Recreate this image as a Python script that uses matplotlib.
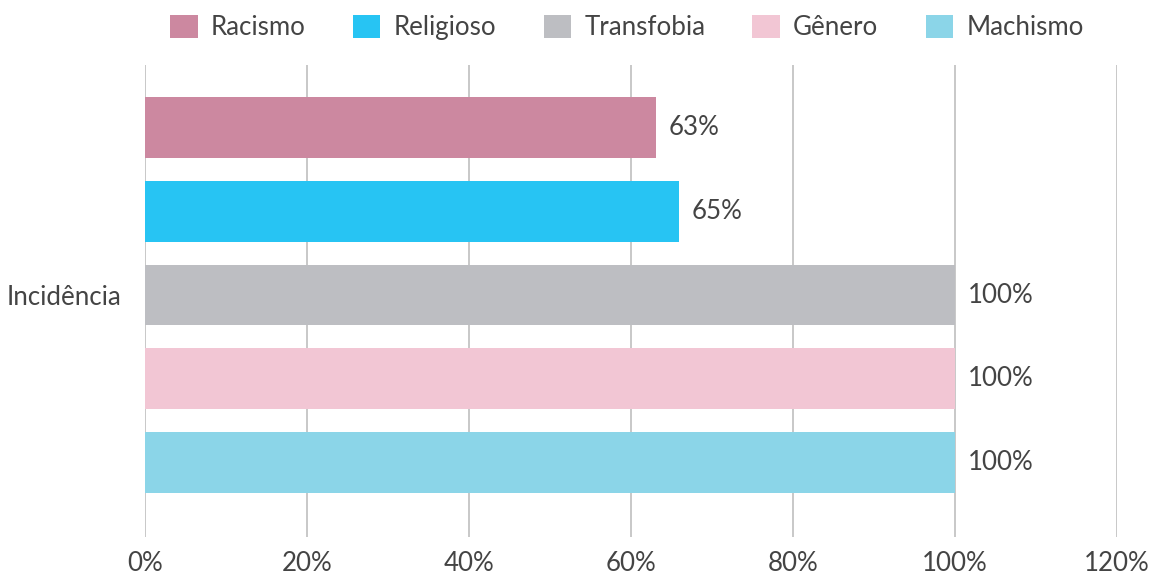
import matplotlib
matplotlib.use("Agg")
import matplotlib.pyplot as plt
from matplotlib.ticker import FuncFormatter, MultipleLocator

plt.rcParams['font.family'] = ['Lato', 'DejaVu Sans']

category = "Incidência"
series = ["Racismo", "Religioso", "Transfobia", "Gênero", "Machismo"]
values = [63.1, 65.9, 100, 100, 100]
value_labels = ["63%", "65%", "100%", "100%", "100%"]
colors = ["#CC88A0", "#27C4F3", "#BDBEC2", "#F2C6D4", "#8BD5E8"]

W, H = 1157, 578
fig = plt.figure(figsize=(W / 100, H / 100), dpi=100)
ax = fig.add_axes([145 / W, 1 - 537 / H, (1117 - 145) / W, (537 - 65) / H])

txt = "#444444"
fs = 18.6
pos = list(range(len(series)))
bar_h = 61 / 84
for i, (s, v, c) in enumerate(zip(series, values, colors)):
    ax.barh(pos[i], v, height=bar_h, color=c, label=s, zorder=3)

for i, (v, lab) in enumerate(zip(values, value_labels)):
    ax.annotate(lab, xy=(v, pos[i]), xytext=(13, 0), textcoords="offset pixels",
                ha="left", va="center", fontsize=fs, color=txt)

ax.set_xlim(0, 120)
ax.set_ylim(4 + 74.5 / 84, -62.5 / 84)
ax.xaxis.set_major_locator(MultipleLocator(20))
ax.xaxis.set_major_formatter(FuncFormatter(lambda x, p: f"{x:.0f}%"))
ax.set_yticks([(len(series) - 1) / 2])
ax.set_yticklabels([category])
ax.grid(axis="x", color="#C8C8C8", linewidth=1.4, zorder=0)
for sp in ax.spines.values():
    sp.set_visible(False)
ax.tick_params(axis="both", length=0, labelsize=fs, labelcolor=txt)
ax.tick_params(axis="x", pad=10)
ax.tick_params(axis="y", pad=17)

leg = fig.legend(loc="center", bbox_to_anchor=(627 / W, 1 - 27.5 / H), ncol=5,
                 frameon=False, fontsize=fs, handlelength=1.05, handleheight=1.0,
                 handletextpad=0.52, columnspacing=1.83, labelcolor=txt,
                 borderaxespad=0, borderpad=0)

fig.savefig("out.png", dpi=100)
